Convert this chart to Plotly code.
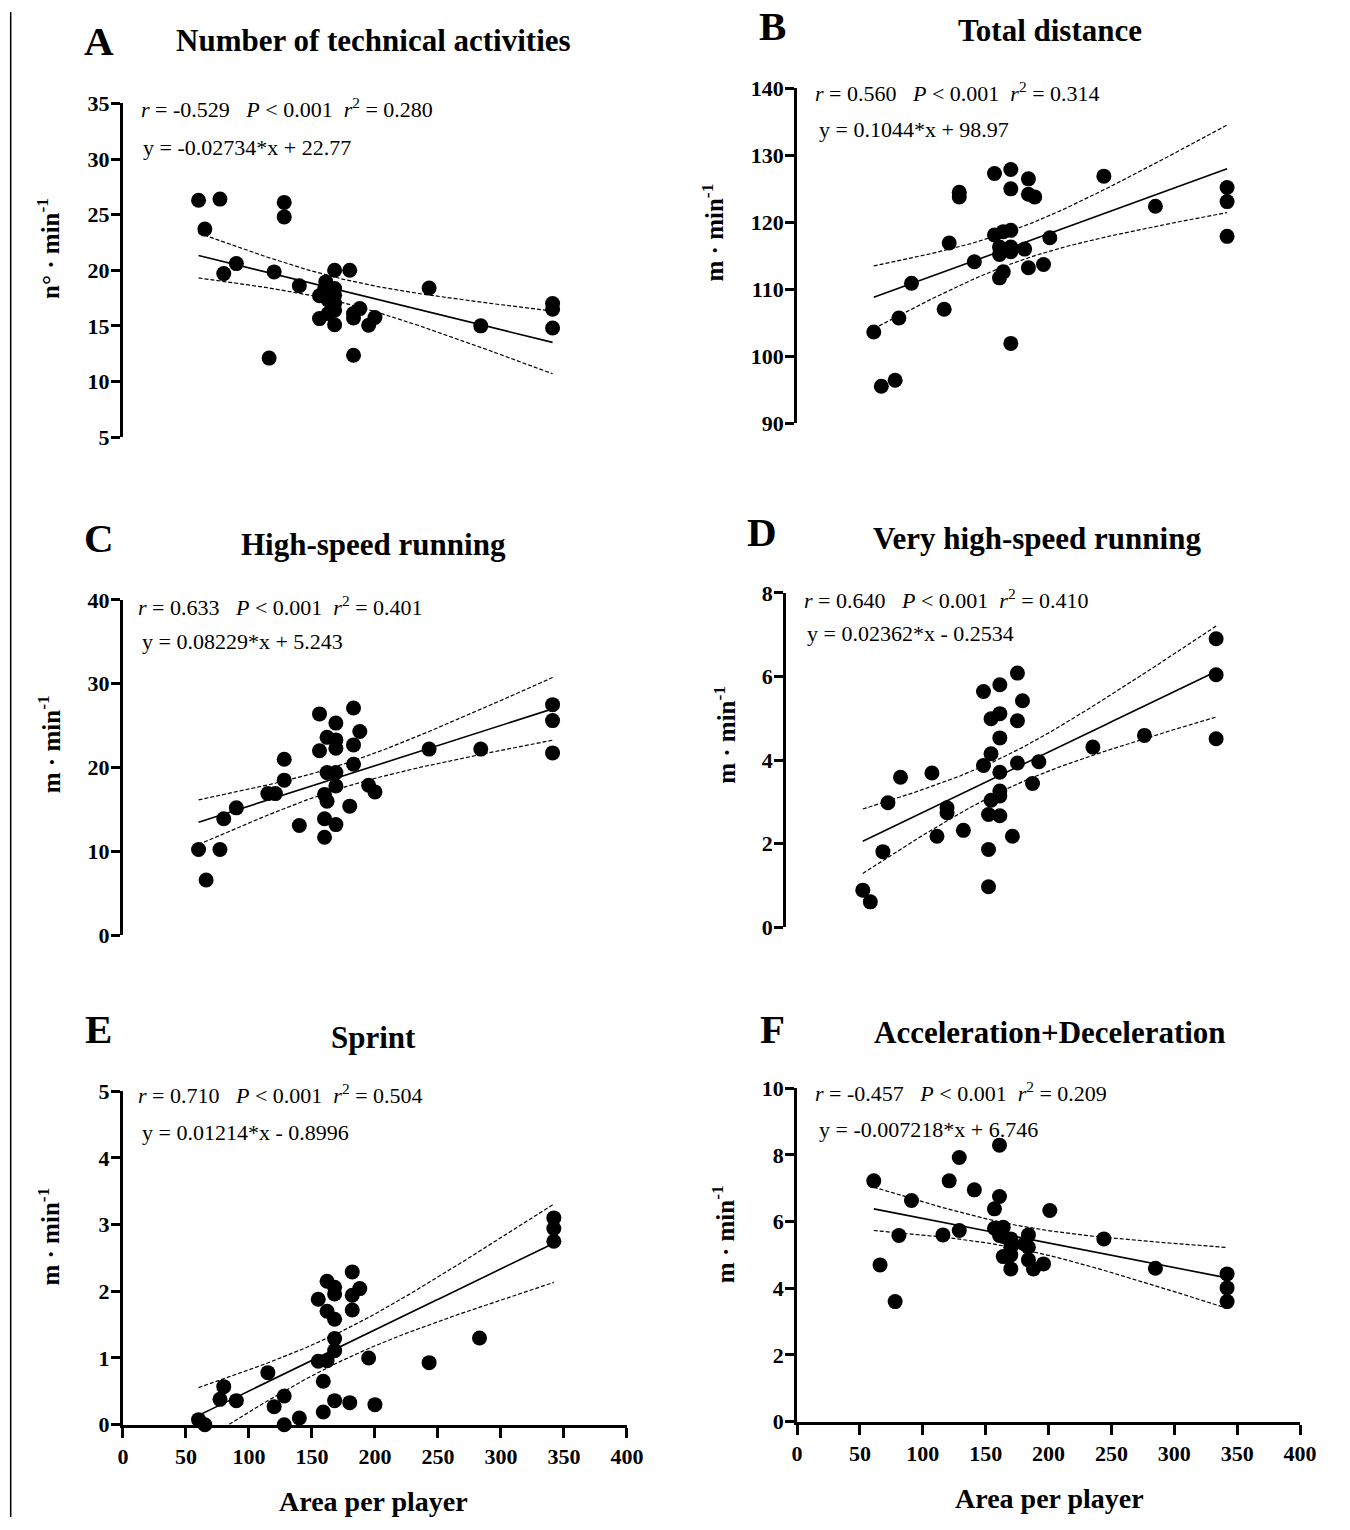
import numpy as np
import plotly.graph_objects as go

W, H = 1350, 1530
FONT = "Liberation Serif"
T_CRIT = 2.0345
# calibration between target-picture pixels and figure pixels
SCALE = 0.985
CX, CY = 4.3, 11.4

# ---------------- data ----------------
X_TICKS = [0, 50, 100, 150, 200, 250, 300, 350, 400]

A_x = [60, 77, 128, 128, 65, 90, 80, 120, 140, 168, 180, 161, 168, 156, 163, 168, 163, 168,
       163, 156, 168, 188, 183, 183, 200, 195, 116, 183, 243, 284, 341, 341, 341, 168, 160]
A_y = [26.3, 26.4, 26.1, 24.8, 23.7, 20.6, 19.7, 19.85, 18.6, 20.0, 20.0, 18.95, 18.35, 17.7,
       18.05, 17.75, 17.3, 16.4, 16.1, 15.65, 15.1, 16.55, 16.1, 15.7, 15.75, 15.05, 12.1, 12.35,
       18.4, 15.0, 17.0, 16.5, 14.8, 17.0, 18.3]

B_x = [61, 67, 78, 81, 91, 117, 121, 129, 129, 141, 157, 170, 170, 184, 184, 189, 157, 164, 170,
       161, 170, 170, 161, 181, 201, 164, 161, 184, 196, 170, 244, 285, 342, 342, 342]
B_y = [103.6, 95.5, 96.4, 105.7, 110.9, 107.0, 116.9, 124.5, 123.8, 114.1, 127.3, 127.9, 125.0,
       126.5, 124.2, 123.8, 118.1, 118.6, 118.8, 116.3, 116.3, 115.6, 115.2, 116.0, 117.7, 112.6,
       111.7, 113.2, 113.7, 101.9, 126.9, 122.4, 125.2, 123.1, 117.9]

C_x = [60, 77, 66, 80, 90, 115, 121, 128, 128, 140, 156, 156, 162, 169, 169, 169, 162, 169, 169,
       160, 162, 160, 169, 160, 183, 188, 183, 183, 180, 195, 200, 243, 284, 341, 341, 341]
C_y = [10.24, 10.24, 6.6, 13.9, 15.2, 16.9, 16.9, 21.0, 18.5, 13.1, 26.4, 22.0, 23.6, 25.3, 23.3,
       22.3, 19.4, 19.4, 17.8, 16.8, 16.0, 13.9, 13.2, 11.7, 27.1, 24.3, 22.7, 20.4, 15.4, 17.9,
       17.1, 22.2, 22.2, 27.5, 25.6, 21.75]

D_x = [61, 67, 77, 81, 91, 116, 120, 128, 128, 141, 157, 170, 184, 188, 163, 170, 184, 170, 163,
       157, 170, 184, 201, 196, 170, 163, 170, 161, 170, 180, 161, 161, 244, 285, 342, 342, 342]
D_y = [0.89, 0.61, 1.81, 2.98, 3.59, 3.69, 2.18, 2.86, 2.74, 2.32, 5.64, 5.80, 6.08, 5.42, 4.99,
       5.11, 4.94, 4.53, 4.15, 3.87, 3.71, 3.93, 3.96, 3.44, 3.26, 3.04, 3.14, 2.70, 2.67, 2.18,
       1.86, 0.97, 4.31, 4.59, 6.04, 4.51, 6.90]

E_x = [60, 65, 77, 80, 90, 115, 120, 128, 128, 140, 155, 155, 162, 162, 162, 159, 159, 168, 168,
       168, 168, 168, 168, 180, 182, 182, 182, 188, 195, 200, 243, 283, 342, 342, 342]
E_y = [0.075, 0.0, 0.38, 0.57, 0.36, 0.78, 0.27, 0.43, 0.0, 0.10, 1.88, 0.95, 2.15, 1.70, 0.96,
       0.65, 0.19, 2.06, 1.96, 1.58, 1.29, 1.11, 0.36, 0.33, 2.29, 1.94, 1.72, 2.04, 1.0, 0.30,
       0.93, 1.30, 3.10, 2.94, 2.75]

F_x = [61, 66, 78, 81, 91, 116, 121, 129, 129, 141, 161, 161, 157, 157, 164, 161, 170, 170, 170,
       164, 170, 184, 181, 184, 184, 188, 196, 201, 244, 285, 342, 342, 342, 170, 164]
F_y = [7.22, 4.70, 3.60, 5.58, 6.63, 5.60, 7.22, 7.92, 5.73, 6.95, 8.29, 6.75, 6.38, 5.80, 5.83,
       5.58, 5.48, 5.23, 5.0, 4.95, 4.58, 5.60, 5.33, 5.23, 4.85, 4.58, 4.73, 6.33, 5.48, 4.60,
       4.43, 4.01, 3.60, 5.35, 5.55]

LETTERS = ["A", "B", "C", "D", "E", "F"]
TITLES = ["Number of technical activities", "Total distance", "High-speed running",
          "Very high-speed running", "Sprint", "Acceleration+Deceleration"]
Y_LABELS = ["n° · min<sup>-1</sup>", "m · min<sup>-1</sup>", "m · min<sup>-1</sup>",
            "m · min<sup>-1</sup>", "m · min<sup>-1</sup>", "m · min<sup>-1</sup>"]
STAT_R = ["-0.529", "0.560", "0.633", "0.640", "0.710", "-0.457"]
STAT_R2 = ["0.280", "0.314", "0.401", "0.410", "0.504", "0.209"]
EQUATIONS = ["y = -0.02734*x + 22.77", "y = 0.1044*x + 98.97", "y = 0.08229*x + 5.243",
             "y = 0.02362*x - 0.2534", "y = 0.01214*x - 0.8996", "y = -0.007218*x + 6.746"]
Y_TICKS = [[5, 10, 15, 20, 25, 30, 35], [90, 100, 110, 120, 130, 140], [0, 10, 20, 30, 40],
           [0, 2, 4, 6, 8], [0, 1, 2, 3, 4, 5], [0, 2, 4, 6, 8, 10]]
DATA_X = [A_x, B_x, C_x, D_x, E_x, F_x]
DATA_Y = [A_y, B_y, C_y, D_y, E_y, F_y]
X_TITLE = "Area per player"

# ---------------- layout (target-picture pixels) ----------------
BOXES = [(121.5, 626.5, 103, 437), (797, 1301, 88, 423), (121.5, 626.5, 600, 936),
         (786, 1290, 593, 928), (121.5, 626.5, 1092, 1426), (797, 1301, 1089, 1423)]
LETTER_POS = [(97, 40), (772, 25), (97, 538), (762, 532), (97, 1030), (772, 1030)]
TITLE_POS = [(373, 40), (1050, 30), (373, 545), (1037, 539), (373, 1038), (1050, 1033)]
STAT1_POS = [(138, 108), (813, 92), (135, 606), (802, 599), (135, 1095), (813, 1093)]
STAT2_POS = [(140, 147), (817, 129), (139, 642), (805, 634), (139, 1133), (817, 1130)]
YLAB_POS = [(47, 248), (713, 232), (47, 745), (724, 735), (47, 1238), (723, 1235)]
XLAB_POS = [(373, 1503), (1050, 1500)]


def px(x):
    return ((x - CX) / SCALE) / W


def py(y):
    return 1 - ((y - CY) / SCALE) / H


def fit_and_band(xs, ys, grid):
    xs = np.asarray(xs, float)
    ys = np.asarray(ys, float)
    n = len(xs)
    slope, icpt = np.polyfit(xs, ys, 1)
    resid = ys - (slope * xs + icpt)
    s = np.sqrt(np.sum(resid ** 2) / (n - 2))
    sxx = np.sum((xs - xs.mean()) ** 2)
    half = T_CRIT * s * np.sqrt(1.0 / n + (grid - xs.mean()) ** 2 / sxx)
    fit = slope * grid + icpt
    return fit, fit - half, fit + half


fig = go.Figure()
layout = {}
annotations = []
sp = "\u00a0"

for i in range(6):
    n = i + 1
    xa = "x" if n == 1 else f"x{n}"
    ya = "y" if n == 1 else f"y{n}"
    xs, ys = DATA_X[i], DATA_Y[i]
    grid = np.linspace(min(xs), max(xs), 150)
    fit, lower, upper = fit_and_band(xs, ys, grid)

    for band in (upper, lower):
        fig.add_trace(go.Scatter(x=grid, y=band, mode="lines", xaxis=xa, yaxis=ya,
                                 line=dict(color="black", width=1.2, dash="4px,2px"),
                                 showlegend=False, hoverinfo="skip"))
    fig.add_trace(go.Scatter(x=grid, y=fit, mode="lines", xaxis=xa, yaxis=ya,
                             line=dict(color="black", width=1.6), showlegend=False,
                             hoverinfo="skip"))
    fig.add_trace(go.Scatter(x=xs, y=ys, mode="markers", xaxis=xa, yaxis=ya, cliponaxis=False,
                             marker=dict(color="black", size=15, line=dict(width=0)),
                             showlegend=False))

    l, r, t, b = BOXES[i]
    yt = Y_TICKS[i]
    bottom_row = i >= 4
    xkey = "xaxis" if n == 1 else f"xaxis{n}"
    ykey = "yaxis" if n == 1 else f"yaxis{n}"
    layout[xkey] = dict(
        domain=[px(l), px(r)], range=[0, 400], anchor=ya, visible=bottom_row,
        showline=True, linewidth=3, linecolor="black",
        ticks="outside", ticklen=10, tickwidth=3, tickcolor="black",
        tickmode="array", tickvals=X_TICKS, ticktext=[str(v) for v in X_TICKS],
        tickfont=dict(family=FONT, size=22, color="black", weight="bold"),
        showgrid=False, zeroline=False, fixedrange=True,
    )
    layout[ykey] = dict(
        domain=[py(b), py(t)], range=[yt[0], yt[-1]], anchor=xa,
        showline=True, linewidth=3, linecolor="black",
        ticks="outside", ticklen=9, tickwidth=3, tickcolor="black",
        tickmode="array", tickvals=yt, ticktext=[str(v) for v in yt],
        tickfont=dict(family=FONT, size=22, color="black", weight="bold"),
        ticklabelstandoff=-3,
        showgrid=False, zeroline=False, fixedrange=True,
    )

    lx, ly = LETTER_POS[i]
    annotations.append(dict(text=f"<b>{LETTERS[i]}</b>", x=px(lx), y=py(ly), xref="paper",
                            yref="paper", showarrow=False, xanchor="center", yanchor="middle",
                            font=dict(family=FONT, size=41, color="black")))
    tx, ty = TITLE_POS[i]
    annotations.append(dict(text=f"<b>{TITLES[i]}</b>", x=px(tx), y=py(ty), xref="paper",
                            yref="paper", showarrow=False, xanchor="center", yanchor="middle",
                            font=dict(family=FONT, size=31, color="black")))
    s1x, s1y = STAT1_POS[i]
    stat = (f"<i>r</i>{sp}={sp}{STAT_R[i]}{sp*3}<i>P</i>{sp}&lt;{sp}0.001{sp*2}"
            f"<i>r</i><sup>2</sup>{sp}={sp}{STAT_R2[i]}")
    annotations.append(dict(text=stat, x=px(s1x), y=py(s1y), xref="paper", yref="paper",
                            showarrow=False, xanchor="left", yanchor="middle",
                            font=dict(family=FONT, size=22, color="black")))
    s2x, s2y = STAT2_POS[i]
    annotations.append(dict(text=EQUATIONS[i].replace(" ", sp), x=px(s2x), y=py(s2y),
                            xref="paper", yref="paper", showarrow=False, xanchor="left",
                            yanchor="middle", font=dict(family=FONT, size=22, color="black")))
    yx, yy = YLAB_POS[i]
    annotations.append(dict(text=f"<b>{Y_LABELS[i]}</b>", x=px(yx), y=py(yy), xref="paper",
                            yref="paper", showarrow=False, xanchor="center", yanchor="middle",
                            textangle=-90, font=dict(family=FONT, size=25, color="black")))

for (xx, yy) in XLAB_POS:
    annotations.append(dict(text=f"<b>{X_TITLE}</b>", x=px(xx), y=py(yy), xref="paper",
                            yref="paper", showarrow=False, xanchor="center", yanchor="middle",
                            font=dict(family=FONT, size=28, color="black")))

fig.update_layout(
    width=W, height=H, margin=dict(l=0, r=0, t=0, b=0),
    paper_bgcolor="white", plot_bgcolor="white",
    annotations=annotations,
    shapes=[dict(type="line", xref="paper", yref="paper", x0=px(9), x1=px(9), y0=0, y1=1,
                 line=dict(color="black", width=1.5))],
    **layout,
)

fig.write_html("out.html", config={"displayModeBar": False},
               post_script="document.body.style.margin='0px';")
